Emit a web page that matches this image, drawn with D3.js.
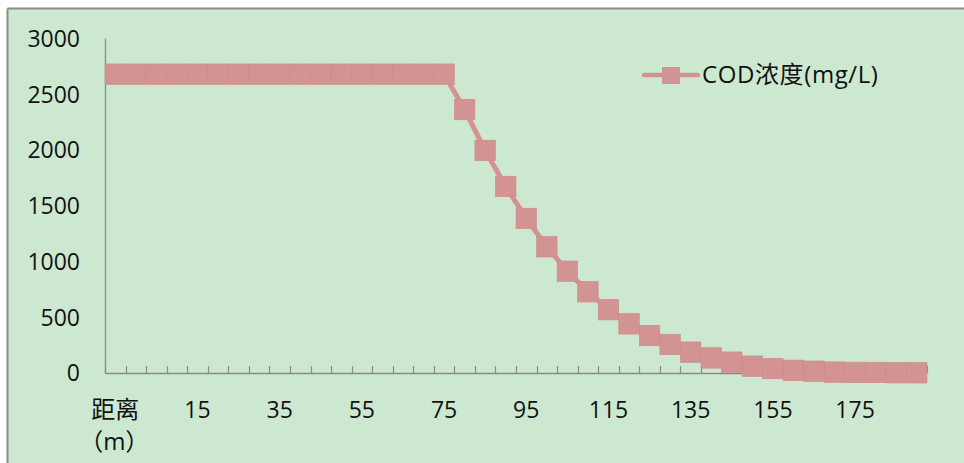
<!DOCTYPE html>
<html>
<head>
<meta charset="utf-8">
<script src="https://cdn.jsdelivr.net/npm/d3@7"></script>
<style>
  html, body { margin: 0; padding: 0; background: #ffffff; }
  svg { display: block; }
  text { font-family: "Open Sans", "Noto Sans CJK SC", sans-serif; fill: #111; }
</style>
</head>
<body>
<svg id="chart" width="964" height="463"></svg>
<script>
// Distance categories (m); the first category carries the axis title
const categories = ["距离（m）"].concat(d3.range(0, 195, 5).map(String));
// COD concentration along the distance, mg/L
const codValues = [
  2680, 2680, 2680, 2680, 2680, 2680, 2680, 2680, 2680, 2680,
  2680, 2680, 2680, 2680, 2680, 2680, 2680, 2363, 1996, 1673,
  1386, 1132, 913, 729, 568, 441, 336, 256, 187, 135,
  97, 61, 40, 24, 16, 8, 6, 5, 3, 2
];
const seriesName = "COD浓度(mg/L)";
const yTicks = [0, 500, 1000, 1500, 2000, 2500, 3000];
// every fourth category gets a label
const labelEvery = 4;

const svg = d3.select("#chart");
const markColor = "#d49393";

// chart area frame
svg.append("rect").attr("x", 8).attr("y", 9).attr("width", 964).attr("height", 463)
  .attr("fill", "#cde8d0");
svg.append("line").attr("x1", 7.5).attr("x2", 964).attr("y1", 8.5).attr("y2", 8.5)
  .attr("stroke", "#8c8c8c").attr("stroke-width", 2);
svg.append("line").attr("x1", 7.5).attr("x2", 7.5).attr("y1", 8.5).attr("y2", 463)
  .attr("stroke", "#8c8c8c").attr("stroke-width", 2);

const plot = { left: 105, right: 927, top: 38.5, bottom: 373 };

const x = d3.scaleBand().domain(categories).range([plot.left, plot.right]).padding(0);
const y = d3.scaleLinear().domain([0, 3000]).range([plot.bottom, plot.top]);

// y axis labels
svg.append("g").selectAll("text").data(yTicks).join("text")
  .attr("x", 80).attr("y", d => y(d))
  .attr("dy", "0.36em")
  .attr("text-anchor", "end")
  .style("font-size", "23px")
  .text(d => d);

// axis lines
svg.append("line").attr("x1", plot.left + 0.5).attr("x2", plot.left + 0.5)
  .attr("y1", plot.top).attr("y2", plot.bottom)
  .attr("stroke", "#8a8a8a").attr("stroke-width", 1.3);
svg.append("line").attr("x1", plot.left).attr("x2", plot.right)
  .attr("y1", plot.bottom + 0.5).attr("y2", plot.bottom + 0.5)
  .attr("stroke", "#8a8a8a").attr("stroke-width", 1.3);

// category boundary ticks (pointing up into the plot)
const boundaries = categories.map(c => x(c)).concat([plot.right]);
svg.append("g").selectAll("line").data(boundaries).join("line")
  .attr("x1", d => Math.round(d) + 0.5).attr("x2", d => Math.round(d) + 0.5)
  .attr("y1", plot.bottom - 7).attr("y2", plot.bottom)
  .attr("stroke", "#8a8a8a").attr("stroke-width", 1.2);

// category labels
const labelG = svg.append("g");
categories.forEach((c, i) => {
  if (i % labelEvery !== 0) return;
  const cx = x(c) + x.bandwidth() / 2;
  const t = labelG.append("text")
    .attr("x", cx).attr("y", 418)
    .attr("text-anchor", "middle")
    .style("font-size", "23px");
  if (i === 0) {
    t.append("tspan").attr("x", cx).attr("y", 418).style("font-size", "24px").text("距离");
    t.append("tspan").attr("x", cx - 1).attr("y", 450).style("font-size", "24px").text("（m）");
  } else {
    t.text(c);
  }
});

// series line and markers
const pts = categories.map((c, i) => ({ cx: x(c) + x.bandwidth() / 2, v: codValues[i] }));
svg.append("path")
  .attr("d", d3.line().x(d => d.cx).y(d => y(d.v))(pts))
  .attr("fill", "none").attr("stroke", markColor).attr("stroke-width", 5)
  .attr("stroke-linejoin", "round");

const ms = 20.5;
svg.append("g").selectAll("rect").data(pts).join("rect")
  .attr("x", d => d.cx - ms / 2).attr("y", d => y(d.v) - ms / 2)
  .attr("width", ms).attr("height", ms)
  .attr("fill", markColor)
  .attr("stroke", "#cb8b8b").attr("stroke-width", 0.6);

// legend
const lg = svg.append("g");
lg.append("line").attr("x1", 644).attr("x2", 698).attr("y1", 75).attr("y2", 75)
  .attr("stroke", markColor).attr("stroke-width", 4.5).attr("stroke-linecap", "round");
lg.append("rect").attr("x", 662).attr("y", 67).attr("width", 18).attr("height", 17)
  .attr("fill", markColor);
lg.append("text").attr("x", 702).attr("y", 83)
  .style("font-size", "24px").style("letter-spacing", "0.6px").text(seriesName);
</script>
</body>
</html>
